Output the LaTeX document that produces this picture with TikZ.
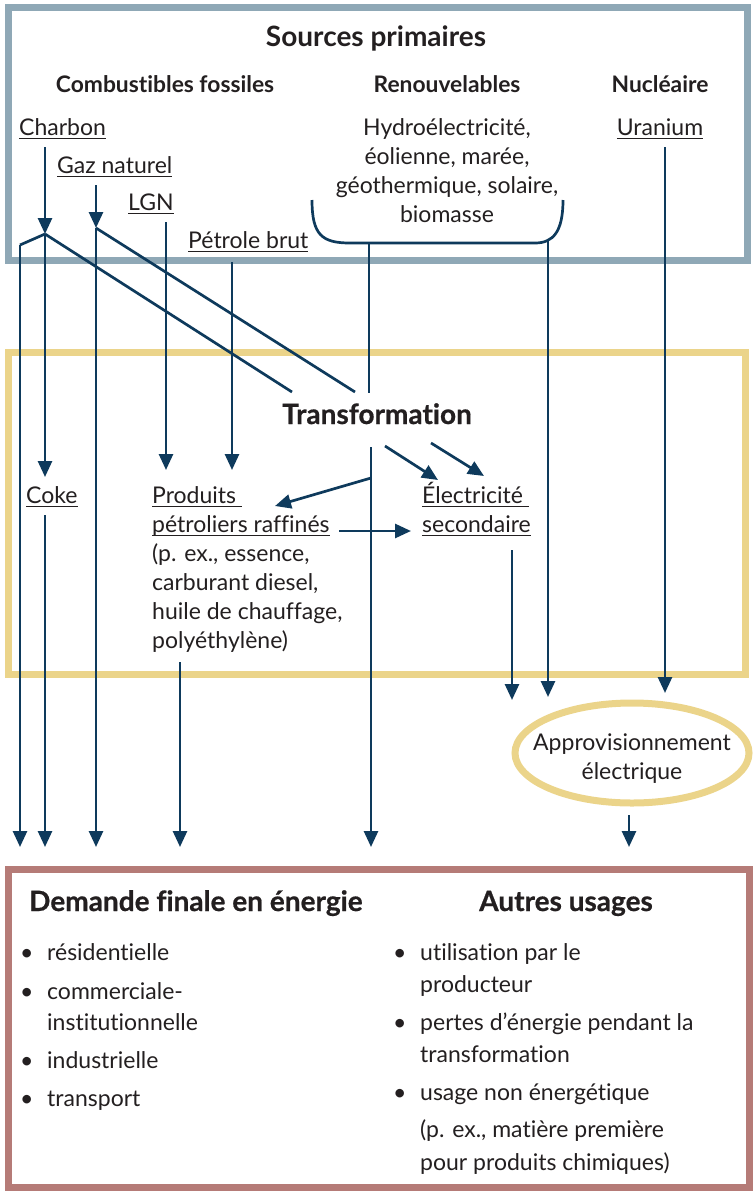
\documentclass[tikz,border=0pt]{standalone}
\usepackage{fontspec}
\setmainfont{Lato}[Ligatures=NoCommon]
\newfontfamily\heavyfont{Lato}[Ligatures=NoCommon,BoldFeatures={FakeBold=0.6}]
\usetikzlibrary{arrows.meta,shapes.geometric}
\definecolor{navy}{HTML}{0E3A5C}
\definecolor{boxblue}{HTML}{8FA8B6}
\definecolor{boxyellow}{HTML}{EBD48A}
\definecolor{boxrose}{HTML}{B57B77}
\definecolor{ink}{HTML}{231F20}
\newcommand{\uln}[1]{\setbox0\hbox{#1}\rlap{\vrule height -2.6pt depth 3.8pt width \wd0}\box0}
\begin{document}
\begin{tikzpicture}[x=1pt,y=-1pt,
  flow/.style={draw=navy,line width=2.7pt},
  arr/.style={flow,-{Triangle[length=16pt,width=14pt]}},
  txt/.style={font=\fontsize{23}{29}\selectfont,text=ink,inner sep=0pt},
  head/.style={font=\fontsize{28}{32}\selectfont\bfseries,text=ink,inner sep=0pt},
  heavy/.style={font=\fontsize{28}{32}\selectfont\heavyfont\bfseries,text=ink,inner sep=0pt},
  sub/.style={font=\fontsize{22.8}{26}\selectfont\bfseries,text=ink,inner sep=0pt},
  frame/.style={line width=7pt}]
\useasboundingbox (0,0) rectangle (753,1191);
% frames
\draw[frame,draw=boxblue] (8,7) rectangle (747,260);
\draw[frame,draw=boxyellow] (8,352) rectangle (745,674);
\draw[frame,draw=boxrose] (8,869) rectangle (749,1187);
\node[draw=boxyellow,line width=7pt,ellipse,minimum width=234pt,minimum height=100pt,inner sep=0pt] (appro) at (632,753) {};
% headings
\node[head,anchor=base] (src) at (376,46) {Sources primaires};
\node[sub,anchor=base] (fos) at (165,92) {Combustibles fossiles};
\node[sub,anchor=base] (ren) at (447,92) {Renouvelables};
\node[sub,anchor=base] (nuc) at (660,92) {Nucléaire};
% sources
\node[txt,anchor=base west] (charbon) at (19,135) {\uln{Charbon}};
\node[txt,anchor=base west] (gaz) at (57,173) {\uln{Gaz naturel}};
\node[txt,anchor=base west] (lgn) at (128,210) {\uln{LGN}};
\node[txt,anchor=base west] (petrole) at (188,248) {\uln{Pétrole brut}};
\node[txt,anchor=base,align=center] (renew) at (447,222) {Hydroélectricité,\\éolienne, marée,\\géothermique, solaire,\\biomasse};
\node[txt,anchor=base] (uranium) at (660,135) {\uln{Uranium}};
% transformation
\node[heavy,anchor=base] (trans) at (377,424) {Transformation};
\node[txt,anchor=base west] (coke) at (26,503) {\uln{Coke}};
\node[txt,anchor=base west,align=left] (prod) at (152,648) {\uln{Produits\ }\\\uln{pétroliers raffinés}\\(p. ex., essence,\\carburant diesel,\\huile de chauffage,\\polyéthylène)};
\node[txt,anchor=base west,align=left] (elec) at (422,532) {\uln{Électricité\ }\\\uln{secondaire}};
\node[txt,anchor=base,align=center] (approtxt) at (632,779) {Approvisionnement\\électrique};
% bottom
\node[heavy,anchor=base west] (dem) at (29,911) {Demande finale en énergie};
\node[heavy,anchor=base] (autres) at (566,911) {Autres usages};
\begin{scope}[every node/.style={txt,anchor=base west}]
\node (b1) at (20,960) {•}; \node (l1) at (47,960) {résidentielle};
\node (b2) at (20,999) {•}; \node (l2) at (47,999) {commerciale-};
\node (l2b) at (47,1030) {institutionnelle};
\node (b3) at (20,1068) {•}; \node (l3) at (47,1068) {industrielle};
\node (b4) at (20,1106) {•}; \node (l4) at (47,1106) {transport};
\node (r1) at (393,960) {•}; \node (m1) at (420,960) {utilisation par le};
\node (m1b) at (420,992) {producteur};
\node (r2) at (393,1030) {•}; \node (m2) at (420,1030) {pertes d’énergie pendant la};
\node (m2b) at (420,1062) {transformation};
\node (r3) at (393,1100) {•}; \node (m3) at (420,1100) {usage non énergétique};
\node (m3b) at (420,1137) {(p. ex., matière première};
\node (m3c) at (420,1170) {pour produits chimiques)};
\end{scope}
% connector points
\coordinate (cht) at (45,147);
\coordinate (split) at (45,234);
\coordinate (lk) at (20,245);
\coordinate (gzt) at (96,185);
\coordinate (gzs) at (96,228);
\coordinate (d1) at (292,392);
\coordinate (d2) at (355,392);
\coordinate (lgt) at (166,222);
\coordinate (pbt) at (232,262);
\coordinate (tipL) at (166,470);
\coordinate (tipP) at (232,470);
\coordinate (coketip) at (45,477);
\coordinate (bl) at (312,200);
\coordinate (br) at (563,200);
\coordinate (bstem) at (369,243);
\coordinate (bstemend) at (369,393);
\coordinate (rstem) at (548,240);
\coordinate (tv) at (371,447);
\coordinate (tvm) at (371,478);
\coordinate (prodtip) at (275,506);
\coordinate (a1s) at (385,446);
\coordinate (a1e) at (438,480);
\coordinate (a2s) at (431,443);
\coordinate (a2e) at (484,476);
\coordinate (hs) at (339,531);
\coordinate (he) at (411,531);
\coordinate (elecb) at (512,550);
\coordinate (cokeb) at (45,515);
\coordinate (prodb) at (180,662);
\coordinate (urt) at (665,147);
\coordinate (e1) at (512,700);
\coordinate (e2) at (548,697);
\coordinate (e3) at (665,693);
\coordinate (apb) at (629,815);
\coordinate (apt) at (629,847);
\coordinate (o1) at (20,847);
\coordinate (o2) at (45,847);
\coordinate (o3) at (96,847);
\coordinate (o4) at (180,847);
\coordinate (o5) at (371,847);
% connectors
\draw[arr] (cht) -- (split);
\draw[flow,line join=miter] (split) -- (lk);
\draw[arr] (lk) -- (o1);
\draw[arr] (split) -- (coketip);
\draw[flow] (split) -- (d1);
\draw[arr] (gzt) -- (gzs);
\draw[flow] (gzs) -- (d2);
\draw[arr] (gzs) -- (o3);
\draw[arr] (lgt) -- (tipL);
\draw[arr] (pbt) -- (tipP);
\draw[flow] (bl) .. controls (312,235) and (322,243) .. (350,243) -- (535,243) .. controls (553,243) and (563,232) .. (br);
\draw[flow] (bstem) -- (bstemend);
\draw[arr] (rstem) -- (e2);
\draw[arr] (urt) -- (e3);
\draw[arr] (tv) -- (o5);
\draw[arr] (tvm) -- (prodtip);
\draw[arr] (a1s) -- (a1e);
\draw[arr] (a2s) -- (a2e);
\draw[arr] (hs) -- (he);
\draw[arr] (elecb) -- (e1);
\draw[arr] (cokeb) -- (o2);
\draw[arr] (prodb) -- (o4);
\draw[arr] (apb) -- (apt);
\end{tikzpicture}
\end{document}
